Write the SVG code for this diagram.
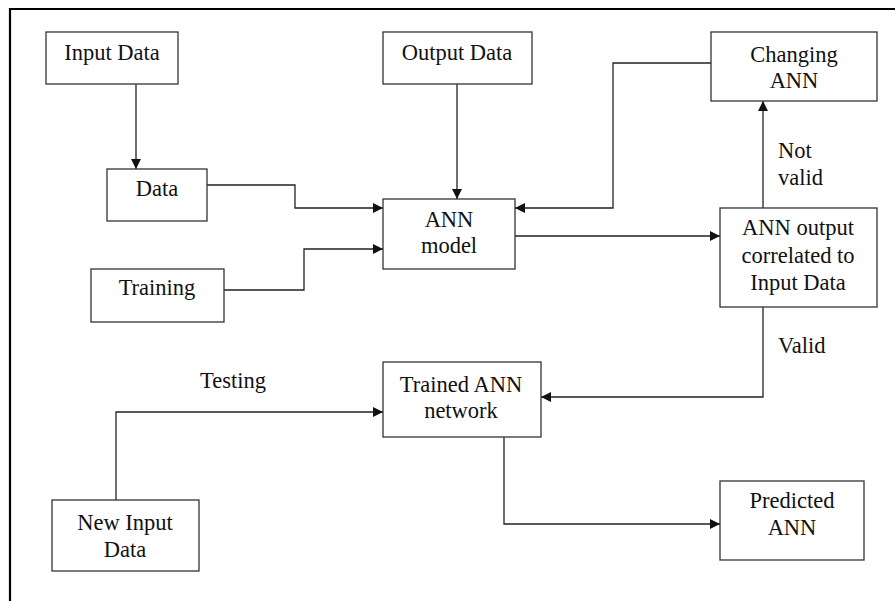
<svg xmlns="http://www.w3.org/2000/svg" width="895" height="601" viewBox="0 0 895 601">
<defs>
<style>
.box{fill:#fff;stroke:#333;stroke-width:1.3}
.t{font-family:"Liberation Serif","Times New Roman",serif;font-size:22.5px;fill:#111;text-anchor:middle}
.l{font-family:"Liberation Serif","Times New Roman",serif;font-size:22.5px;fill:#111}
.c{fill:none;stroke:#222;stroke-width:1.3}
</style>
<marker id="ar" viewBox="0 0 10 10" refX="10" refY="5" markerWidth="10" markerHeight="10" markerUnits="userSpaceOnUse" orient="auto">
<path d="M0,0 L10,5 L0,10 z" fill="#111"/>
</marker>
</defs>
<rect width="895" height="601" fill="#fff"/>
<path d="M10,601 V9 H895" fill="none" stroke="#000" stroke-width="2.2"/>
<g id="connectors">
<path class="c" d="M136,84 V169" marker-end="url(#ar)"/>
<path class="c" d="M207,185 H295 V208 H383" marker-end="url(#ar)"/>
<path class="c" d="M224,290 H304 V249 H383" marker-end="url(#ar)"/>
<path class="c" d="M457,84 V199" marker-end="url(#ar)"/>
<path class="c" d="M711,63 H613 V208 H515" marker-end="url(#ar)"/>
<path class="c" d="M515,236 H720" marker-end="url(#ar)"/>
<path class="c" d="M763,208 V101" marker-end="url(#ar)"/>
<path class="c" d="M763,307 V397 H541" marker-end="url(#ar)"/>
<path class="c" d="M116,500 V412 H383" marker-end="url(#ar)"/>
<path class="c" d="M504,437 V524 H720" marker-end="url(#ar)"/>
<text class="l" x="778" y="158">Not</text>
<text class="l" x="778" y="185">valid</text>
<text class="l" x="778" y="353">Valid</text>
<text class="l" x="200" y="388">Testing</text>
</g>
<g id="input-data"><rect class="box" x="46" y="32" width="132" height="52"/><text class="t" x="112" y="60">Input Data</text></g>
<g id="output-data"><rect class="box" x="383" y="32" width="149" height="52"/><text class="t" x="457" y="60">Output Data</text></g>
<g id="changing-ann"><rect class="box" x="711" y="32" width="166" height="69"/><text class="t" x="794" y="62">Changing</text><text class="t" x="794" y="88">ANN</text></g>
<g id="data"><rect class="box" x="107" y="169" width="100" height="52"/><text class="t" x="157" y="196">Data</text></g>
<g id="ann-model"><rect class="box" x="383" y="199" width="132" height="70"/><text class="t" x="449" y="227">ANN</text><text class="t" x="449" y="253">model</text></g>
<g id="training"><rect class="box" x="91" y="269" width="133" height="53"/><text class="t" x="157" y="295">Training</text></g>
<g id="ann-output"><rect class="box" x="720" y="208" width="157" height="99"/><text class="t" x="798" y="235">ANN output</text><text class="t" x="798" y="263">correlated to</text><text class="t" x="798" y="290">Input Data</text></g>
<g id="trained-ann"><rect class="box" x="383" y="362" width="158" height="75"/><text class="t" x="461" y="392">Trained ANN</text><text class="t" x="461" y="418">network</text></g>
<g id="new-input-data"><rect class="box" x="52" y="500" width="147" height="71"/><text class="t" x="125" y="530">New Input</text><text class="t" x="125" y="557">Data</text></g>
<g id="predicted-ann"><rect class="box" x="720" y="481" width="144" height="79"/><text class="t" x="792" y="508">Predicted</text><text class="t" x="792" y="535">ANN</text></g>
</svg>
